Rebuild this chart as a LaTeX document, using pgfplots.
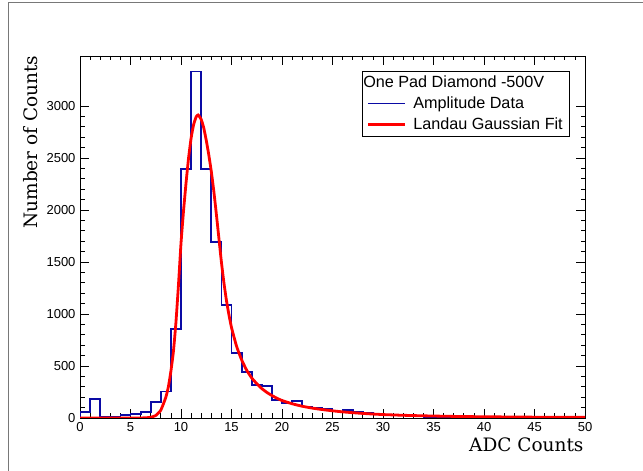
\documentclass[border=0pt]{standalone}
\usepackage{pgfplots}
\pgfplotsset{compat=1.18}
\usepackage{pgfplotstable}
\usepackage{fontspec}
\setmainfont{Liberation Sans}
\newfontfamily\titlefont{DejaVu Serif}

\definecolor{histblue}{RGB}{10,10,165}
\definecolor{fitred}{RGB}{255,0,0}
\definecolor{framegray}{RGB}{120,120,120}

% Amplitude histogram: left bin edge, entries (bin width 1 ADC count)
\pgfplotstableread{
x y
0 0
0 60
1 185
2 15
3 15
4 28
5 35
6 55
7 152
8 255
9 856
10 2394
11 3330
12 2390
13 1695
14 1090
15 625
16 445
17 317
18 310
19 173
20 145
21 166
22 110
23 100
24 87
25 62
26 77
27 55
28 50
29 36
30 30
31 27
32 25
33 15
34 12
35 10
36 9
37 8
38 7
39 6
40 5
41 4
42 4
43 3
44 3
45 2
46 2
47 2
48 1
49 1
50 1
50 0
}\histdata

% Landau (x) Gaussian fit curve, sampled
\pgfplotstableread{
x y
0 0
5 0
6 0.5
6.5 2
7 7
7.5 24
8 75
8.5 200
8.75 300
9 450
9.25 640
9.5 920
9.75 1280
10 1680
10.25 1990
10.5 2260
10.75 2500
11 2690
11.25 2820
11.5 2895
11.7 2913
12 2870
12.25 2790
12.5 2670
12.75 2530
13 2370
13.25 2180
13.5 1960
13.75 1730
14 1500
14.25 1300
14.5 1130
14.75 990
15 870
15.5 690
16 560
16.5 460
17 385
17.5 330
18 283
18.5 246
19 216
19.5 190
20 168
21 137
22 113
23 95
24 81
25 69
26 59
27 51
28 44
29 38
30 33
32 26
34 21
36 17
38 14
40 12
45 8
50 6
}\fitdata

\begin{document}
\begin{tikzpicture}[x=1pt,y=1pt]
\path[use as bounding box] (0,0) rectangle (643,471);
\fill[white] (0,0) rectangle (643,471);
\draw[framegray, line width=1.3pt] (8.5,-2) -- (8.5,468.5) -- (645,468.5);
\begin{axis}[
  at={(80pt,53pt)}, anchor=south west,
  scale only axis, width=505pt, height=362pt,
  xmin=0, xmax=50, ymin=0, ymax=3480,
  xtick={0,5,...,50}, minor x tick num=4,
  ytick={0,500,...,3000}, minor y tick num=4,
  tick align=inside,
  major tick length=9pt, minor tick length=4.5pt,
  every tick/.style={black, line width=0.7pt},
  axis line style={line width=0.8pt},
  scaled ticks=false,
  /pgf/number format/set thousands separator={},
  /pgf/number format/assume math mode=true,
  tick label style={font=\fontsize{13}{13}\selectfont},
  xticklabel style={yshift=-1pt},
  yticklabel style={xshift=-1pt},
  every axis x label/.style={at={(axis description cs:1.004,-0.0912)}, anchor=base east},
  every axis y label/.style={at={(axis description cs:-0.0842,1.011)}, rotate=90, anchor=base east},
  xlabel={\titlefont\fontsize{18.5}{18.5}\selectfont ADC Counts},
  ylabel={\titlefont\fontsize{18.5}{18.5}\selectfont Number of Counts},
  legend style={at={(axis description cs:0.558,0.959)}, anchor=north west,
    draw=black, line width=0.8pt, font=\fontsize{16.2}{16.2}\selectfont,
    inner xsep=4.8pt, inner ysep=3.5pt, row sep=4.5pt, column sep=5pt,
    nodes={inner sep=1.5pt}},
  legend cell align=left,
  legend image code/.code={\draw[#1] (0pt,0pt) -- (37pt,0pt);},
]
\addlegendimage{empty legend}
\addlegendentry{\hspace*{-50pt}One Pad Diamond -500V}
\addplot[const plot mark left, histblue, line width=1.8pt] table[x=x,y=y] {\histdata};
\addlegendentry{Amplitude Data}
\addplot[fitred, line width=2.8pt, smooth, tension=0.3] table[x=x,y=y] {\fitdata};
\addlegendentry{Landau Gaussian Fit}
\end{axis}
\end{tikzpicture}
\end{document}
